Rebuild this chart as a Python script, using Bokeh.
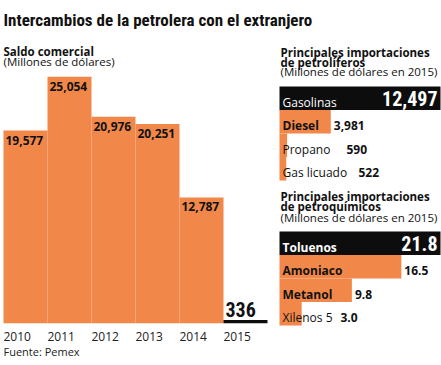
from bokeh.plotting import figure
from bokeh.models import Range1d
from bokeh.core.properties import value
from bokeh.embed import file_html
from bokeh.resources import INLINE

# ---------------- data ----------------
years = ["2010", "2011", "2012", "2013", "2014", "2015"]
saldo = [19577, 25054, 20976, 20251, 12787, 336]
saldo_labels = ["19,577", "25,054", "20,976", "20,251", "12,787", "336"]

petroliferos = ["Gasolinas", "Diesel", "Propano", "Gas licuado"]
petroliferos_vals = [12497, 3981, 590, 522]
petroliferos_labels = ["12,497", "3,981", "590", "522"]

petroquimicos = ["Toluenos", "Amoniaco", "Metanol", "Xilenos 5"]
petroquimicos_vals = [21.8, 16.5, 9.8, 3.0]
petroquimicos_labels = ["21.8", "16.5", "9.8", "3.0"]

title = "Intercambios de la petrolera con el extranjero"

# ---------------- layout (pixel frame) ----------------
W, H = 441, 365
X_START = 3.0            # left edge of first year column
BAR_W = 44.0             # px per year column
BASE_Y = 322.7           # baseline of saldo bars
KPX = 0.00984            # px per million dollars
PX0, PX1 = 279, 440      # right panels horizontal extent
ROW_H = 23.5
ROWA_TOP, ROWB_TOP = 86, 231

ORANGE = "#F1884A"
BLACK = "#0d0d0d"
INK = "#111111"
BODY = "Open Sans"
COND = "Roboto Condensed"

p = figure(width=W, height=H,
           x_range=Range1d(-X_START / BAR_W, (W - X_START) / BAR_W),
           y_range=Range1d(-(H - BASE_Y) / KPX, BASE_Y / KPX),
           x_axis_type=None, y_axis_type=None,
           min_border=0, toolbar_location=None, output_backend="svg")
p.outline_line_color = None
p.grid.visible = False
p.background_fill_color = "white"
p.border_fill_color = "white"

maxA = max(petroliferos_vals)
maxB = max(petroquimicos_vals)
PW = PX1 - PX0


def val_range(vmax):
    return Range1d(-PX0 * vmax / PW, vmax + (W - PX1) * vmax / PW)


def row_range(top):
    return Range1d((H - top) / ROW_H - 0.5, (0 - top) / ROW_H - 0.5)


p.extra_x_ranges = {"pxx": Range1d(0, W), "valA": val_range(maxA), "valB": val_range(maxB)}
p.extra_y_ranges = {"pxy": Range1d(H, 0), "rowsA": row_range(ROWA_TOP), "rowsB": row_range(ROWB_TOP)}

# texts are anchored at the vertical middle of their capitals
TXT = dict(text_baseline="alphabetic")

# ---------------- titles ----------------
p.text(x=[3], y=[19], text=[title], x_range_name="pxx", y_range_name="pxy",
       text_font=value(COND), text_font_style="bold", text_font_size="17px",
       text_color=INK, **TXT)


def head(x, ys, lines, sizes):
    for i, (yy, t) in enumerate(zip(ys, lines)):
        p.text(x=[x], y=[yy], text=[t], x_range_name="pxx", y_range_name="pxy",
               text_font=value(BODY), text_font_style="bold" if i < len(lines) - 1 else "normal",
               text_font_size=sizes[i], text_color=INK, **TXT)


head(3, [51, 60.5], ["Saldo comercial", "(Millones de dólares)"], ["11.5px", "11.5px"])
head(280, [51.5, 61.5, 71], ["Principales importaciones", "de petrolíferos", "(Millones de dólares en 2015)"],
     ["11.5px", "11.5px", "11.5px"])
head(280, [196, 206, 216.5], ["Principales importaciones", "de petroquímicos", "(Millones de dólares en 2015)"],
     ["11.5px", "11.5px", "11.5px"])

# ---------------- saldo comercial bars ----------------
n = len(years)
xs = [i + 0.5 for i in range(n)]
colors = [ORANGE] * (n - 1) + [BLACK]
p.vbar(x=xs, top=saldo, bottom=0, width=1.0, fill_color=colors, line_color=None)

inside_y = [v - 9.5 / KPX for v in saldo[:-1]]
p.text(x=list(range(n - 1)), y=inside_y, text=saldo_labels[:-1], x_offset=2,
       text_font=value(BODY), text_font_style="bold", text_font_size="12px",
       text_color=INK, **TXT)
p.text(x=[n - 1], y=[saldo[-1] + 10.0 / KPX], text=[saldo_labels[-1]], x_offset=2,
       text_font=value(COND), text_font_style="bold", text_font_size="20px",
       text_color=INK, **TXT)

p.text(x=list(range(n)), y=[335.5] * n, text=years, y_range_name="pxy", x_offset=0,
       text_font=value(BODY), text_font_size="12px", text_color="#222222", **TXT)
p.text(x=[3], y=[351], text=["Fuente: Pemex"], x_range_name="pxx", y_range_name="pxy",
       text_font=value(BODY), text_font_size="11px", text_color="#222222", **TXT)


# ---------------- horizontal panels ----------------
def panel(names, vals, labels, xr, yr, vmax, min_val_px, name_styles):
    k = list(range(len(names)))
    cols = [BLACK] + [ORANGE] * (len(names) - 1)
    p.hbar(y=k, left=0, right=vals, height=1.0, fill_color=cols, line_color=None,
           x_range_name=xr, y_range_name=yr)
    mid = [i - 0.5 + 15.5 / ROW_H for i in k]
    name_cols = ["white"] + [INK] * (len(names) - 1)
    for i in k:
        p.text(x=[0], y=[mid[i]], text=[names[i]], x_offset=3,
               x_range_name=xr, y_range_name=yr,
               text_font=value(BODY), text_font_style=name_styles[i], text_font_size="12px",
               text_color=name_cols[i], **TXT)
    # first value: big, right aligned inside the black bar
    p.text(x=[vmax], y=[-0.5 + 11.5 / ROW_H], text=[labels[0]], x_offset=-3,
           x_range_name=xr, y_range_name=yr,
           text_font=value(COND), text_font_style="bold", text_font_size="20px",
           text_color="white", text_align="right", **TXT)
    for i in k[1:]:
        bar_end = PX0 + vals[i] / vmax * PW + 3
        xpx = max(bar_end, PX0 + min_val_px[i])
        p.text(x=[xpx], y=[mid[i]], text=[labels[i]],
               x_range_name="pxx", y_range_name=yr,
               text_font=value(BODY), text_font_style="bold", text_font_size="12px",
               text_color=INK, **TXT)


panel(petroliferos, petroliferos_vals, petroliferos_labels, "valA", "rowsA", maxA,
      [0, 0, 67, 79], ["normal", "bold", "normal", "normal"])
panel(petroquimicos, petroquimicos_vals, petroquimicos_labels, "valB", "rowsB", maxB,
      [0, 0, 0, 61], ["bold", "bold", "bold", "normal"])

open("out.html", "w").write(file_html(p, INLINE))
